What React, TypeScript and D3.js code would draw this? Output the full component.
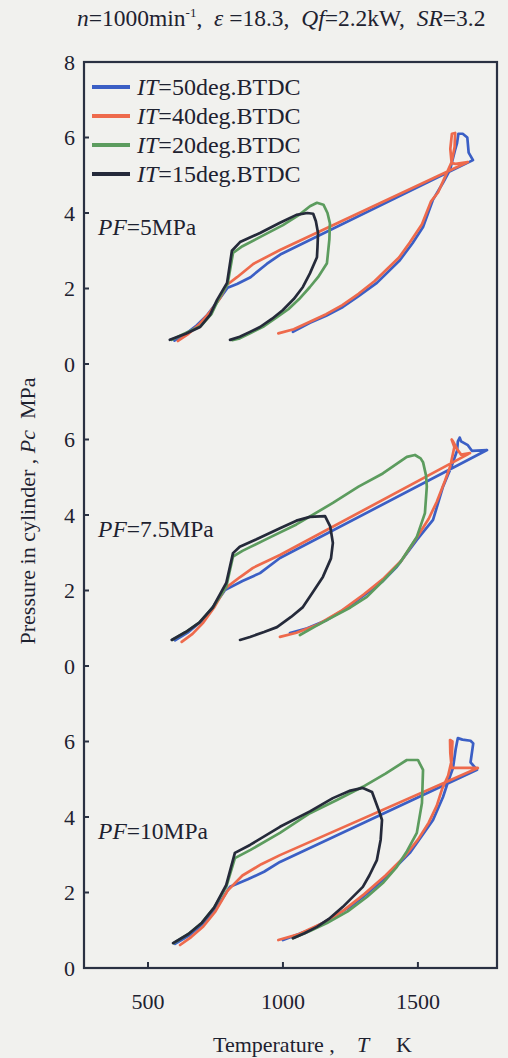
import React from "react";
import * as d3 from "d3";

// Injection timings (deg. BTDC) and their line colours
const itLabels = ["50", "40", "20", "15"];
const itColors = ["#3b5fc5", "#ee6a4c", "#5c9c5e", "#252a3a"];

// Fuel injection pressures, one stacked panel each (top to bottom)
const pfLabels = ["5", "7.5", "10"];

// Temperature (K) vs cylinder pressure (MPa) loops, PF = 5 MPa
const pf5_it50: [number, number][] = [[598,0.62],[640,0.8],[680,1.02],[720,1.3],[760,1.68],[795,2.02],[830,2.12],[880,2.3],[940,2.65],[990,2.9],[1704,5.4],[1688,5.6],[1683,6.0],[1666,6.1],[1650,6.1],[1645,5.85],[1637,5.65],[1619,5.14],[1593,4.8],[1555,4.34],[1519,3.63],[1480,3.2],[1433,2.75],[1348,2.15],[1280,1.8],[1222,1.51],[1160,1.28],[1100,1.09],[1037,0.85]];
const pf5_it40: [number, number][] = [[611,0.61],[650,0.8],[690,1.05],[730,1.38],[765,1.72],[793,2.1],[830,2.3],[890,2.65],[989,3.02],[1685,5.35],[1640,5.3],[1625,5.32],[1620,5.7],[1626,6.1],[1638,6.12],[1636,5.75],[1625,5.35],[1600,4.95],[1575,4.55],[1548,4.3],[1515,3.7],[1470,3.22],[1430,2.82],[1340,2.2],[1280,1.86],[1220,1.56],[1160,1.32],[1100,1.12],[1040,0.92],[983,0.81]];
const pf5_it20: [number, number][] = [[588,0.64],[640,0.82],[695,1.0],[735,1.32],[760,1.7],[795,2.12],[815,2.94],[850,3.12],[920,3.38],[1000,3.68],[1060,3.95],[1100,4.18],[1126,4.27],[1150,4.22],[1165,4.0],[1174,3.73],[1172,3.3],[1163,2.67],[1130,2.3],[1100,2.04],[1060,1.72],[1020,1.45],[970,1.2],[930,1.0],[880,0.82],[840,0.68],[812,0.63]];
const pf5_it15: [number, number][] = [[581,0.64],[640,0.8],[693,0.98],[730,1.3],[756,1.7],[793,2.15],[811,3.0],[841,3.23],[915,3.47],[989,3.74],[1050,3.95],[1090,4.0],[1112,3.98],[1122,3.78],[1130,3.47],[1128,3.1],[1126,2.83],[1100,2.4],[1074,2.04],[1040,1.72],[1000,1.43],[960,1.2],[915,0.98],[878,0.85],[840,0.72],[804,0.64]];

// PF = 7.5 MPa
const pf75_it50: [number, number][] = [[600,0.68],[650,0.9],[700,1.2],[745,1.6],[785,2.01],[850,2.25],[915,2.46],[989,2.86],[1756,5.72],[1700,5.7],[1685,5.85],[1660,5.95],[1655,6.05],[1648,5.95],[1645,5.7],[1625,5.3],[1593,4.75],[1556,3.87],[1496,3.34],[1422,2.63],[1370,2.25],[1311,1.93],[1240,1.55],[1163,1.22],[1090,1.0],[1026,0.87]];
const pf75_it40: [number, number][] = [[625,0.64],[665,0.85],[705,1.15],[745,1.55],[785,2.05],[840,2.35],[889,2.6],[989,2.94],[1693,5.64],[1660,5.6],[1645,5.75],[1630,5.95],[1625,6.0],[1635,5.8],[1620,5.3],[1600,4.9],[1570,4.35],[1540,3.9],[1500,3.45],[1440,2.8],[1370,2.3],[1300,1.9],[1220,1.48],[1130,1.1],[1050,0.88],[989,0.77]];
const pf75_it20: [number, number][] = [[590,0.69],[640,0.9],[690,1.15],[740,1.55],[790,2.1],[815,2.9],[850,3.05],[878,3.15],[950,3.4],[1050,3.75],[1185,4.32],[1280,4.75],[1370,5.1],[1459,5.54],[1489,5.59],[1510,5.5],[1519,5.4],[1530,5.05],[1533,4.75],[1526,4.05],[1496,3.42],[1433,2.73],[1370,2.25],[1311,1.83],[1250,1.55],[1185,1.3],[1120,1.05],[1063,0.82]];
const pf75_it15: [number, number][] = [[588,0.69],[640,0.9],[690,1.15],[740,1.55],[790,2.2],[815,2.99],[840,3.16],[900,3.35],[989,3.65],[1050,3.85],[1100,3.95],[1156,3.97],[1175,3.7],[1185,3.26],[1178,2.85],[1148,2.36],[1110,1.95],[1074,1.56],[1030,1.3],[978,1.03],[930,0.9],[878,0.77],[841,0.69]];

// PF = 10 MPa
const pf10_it50: [number, number][] = [[600,0.64],[650,0.85],[700,1.15],[750,1.55],[790,2.0],[804,2.15],[870,2.35],[930,2.55],[989,2.81],[1719,5.25],[1695,5.45],[1705,5.95],[1695,6.02],[1665,6.05],[1648,6.09],[1640,5.8],[1630,5.3],[1610,4.9],[1593,4.53],[1556,3.92],[1470,3.05],[1370,2.33],[1300,1.9],[1248,1.62],[1170,1.28],[1100,1.01],[1040,0.85],[1000,0.74]];
const pf10_it40: [number, number][] = [[619,0.61],[660,0.82],[705,1.1],[750,1.5],[795,2.05],[850,2.45],[920,2.75],[989,2.99],[1722,5.3],[1650,5.3],[1625,5.3],[1620,5.7],[1619,6.04],[1628,6.0],[1625,5.5],[1612,5.1],[1590,4.75],[1570,4.3],[1540,3.85],[1500,3.4],[1450,2.95],[1380,2.45],[1300,1.95],[1220,1.5],[1150,1.2],[1060,0.9],[983,0.74]];
const pf10_it20: [number, number][] = [[595,0.66],[650,0.9],[700,1.2],[745,1.6],[790,2.15],[822,2.91],[880,3.13],[989,3.58],[1100,4.1],[1200,4.45],[1296,4.8],[1380,5.15],[1459,5.51],[1500,5.51],[1519,5.25],[1517,4.8],[1515,4.37],[1496,3.58],[1460,3.1],[1422,2.68],[1370,2.25],[1311,1.88],[1240,1.5],[1163,1.19],[1100,0.98],[1037,0.79]];
const pf10_it15: [number, number][] = [[593,0.66],[650,0.9],[700,1.2],[745,1.6],[790,2.2],[822,3.05],[878,3.26],[989,3.74],[1100,4.15],[1185,4.5],[1250,4.7],[1296,4.77],[1330,4.66],[1359,4.1],[1367,3.92],[1362,3.4],[1348,2.86],[1320,2.45],[1296,2.15],[1222,1.62],[1170,1.3],[1126,1.09],[1080,0.92],[1037,0.79]];

// Axis ticks
const xTicks = [500, 1000, 1500];
const yTickLabels = ["0", "2", "4", "6"];

const panels = [
  { offset: 16, series: [pf5_it50, pf5_it40, pf5_it20, pf5_it15] },
  { offset: 8, series: [pf75_it50, pf75_it40, pf75_it20, pf75_it15] },
  { offset: 0, series: [pf10_it50, pf10_it40, pf10_it20, pf10_it15] },
];

const W = 508;
const H = 1058;
const serif = "'Liberation Serif', 'Times New Roman', serif";
const axisColor = "#2a3142";
const textColor = "#1e2230";

export default function App() {
  const x = d3.scaleLinear().domain([263, 1793]).range([84, 497]);
  // continuous pressure scale holding three stacked 0-8 MPa panels
  const y = d3.scaleLinear().domain([0, 24]).range([968, 62]);

  const yTicks: { v: number; label: string }[] = [];
  [0, 8, 16].forEach((off) =>
    yTickLabels.forEach((l) => yTicks.push({ v: off + +l, label: l }))
  );
  yTicks.push({ v: 24, label: "8" });

  return (
    <svg
      width={W}
      height={H}
      style={{ position: "absolute", left: 0, top: 0, background: "#f1f1ee" }}
      fontFamily={serif}
    >
      <rect x={0} y={0} width={W} height={H} fill="#f1f1ee" />

      {/* title */}
      <text x={77} y={26} fontSize={23.5} fill={textColor} style={{ whiteSpace: "pre" }}>
        <tspan fontStyle="italic">n</tspan>
        <tspan>=1000min</tspan>
        <tspan fontSize={13} dy={-9}>-1</tspan>
        <tspan dy={9}>,  </tspan>
        <tspan fontStyle="italic">ε</tspan>
        <tspan> =18.3,  </tspan>
        <tspan fontStyle="italic">Qf</tspan>
        <tspan>=2.2kW,  </tspan>
        <tspan fontStyle="italic">SR</tspan>
        <tspan>=3.2</tspan>
      </text>

      {/* curves */}
      {panels.map((p, pi) => {
        const line = d3
          .line<[number, number]>()
          .x((d) => x(d[0]))
          .y((d) => y(d[1] + p.offset));
        return (
          <g key={pi}>
            {p.series.map((s, si) => (
              <path
                key={si}
                d={line(s) || ""}
                fill="none"
                stroke={itColors[si]}
                strokeWidth={2.7}
                strokeLinejoin="round"
                strokeLinecap="round"
              />
            ))}
            <text x={x(315)} y={y(p.offset + 3.42)} fontSize={23.5} fill={textColor}>
              <tspan fontStyle="italic">PF</tspan>
              <tspan>={pfLabels[pi]}MPa</tspan>
            </text>
          </g>
        );
      })}

      {/* frame */}
      <rect
        x={x.range()[0]}
        y={y.range()[1]}
        width={x.range()[1] - x.range()[0]}
        height={y.range()[0] - y.range()[1]}
        fill="none"
        stroke={axisColor}
        strokeWidth={2.2}
      />

      {/* x ticks */}
      {xTicks.map((t) => (
        <g key={t}>
          <line x1={x(t)} x2={x(t)} y1={y(0)} y2={y(0) - 6} stroke={axisColor} strokeWidth={2} />
          <text x={x(t)} y={1009} textAnchor="middle" fontSize={22} fill={textColor}>
            {t}
          </text>
        </g>
      ))}

      {/* y ticks */}
      {yTicks.map((t, i) => (
        <g key={i}>
          <line x1={x.range()[0]} x2={x.range()[0] + 5} y1={y(t.v)} y2={y(t.v)} stroke={axisColor} strokeWidth={2} />
          <text x={75} y={y(t.v)} dy="0.35em" textAnchor="end" fontSize={22} fill={textColor}>
            {t.label}
          </text>
        </g>
      ))}

      {/* legend */}
      {itLabels.map((l, i) => {
        const ly = 87 + i * 29;
        return (
          <g key={l}>
            <line x1={92} x2={130} y1={ly} y2={ly} stroke={itColors[i]} strokeWidth={4} />
            <text x={137} y={ly + 8} fontSize={24} fill={textColor}>
              <tspan fontStyle="italic">IT</tspan>
              <tspan>={l}deg.BTDC</tspan>
            </text>
          </g>
        );
      })}

      {/* axis titles */}
      <text y={1052} fontSize={22} fill={textColor} style={{ whiteSpace: "pre" }}>
        <tspan x={213}>Temperature ,</tspan>
        <tspan x={357} fontStyle="italic">T</tspan>
        <tspan x={396}>K</tspan>
      </text>
      <text
        transform="translate(35,511) rotate(-90)"
        textAnchor="middle"
        fontSize={22}
        fill={textColor}
        style={{ whiteSpace: "pre" }}
      >
        <tspan>Pressure in cylinder , </tspan>
        <tspan fontStyle="italic">Pc</tspan>
        <tspan>  MPa</tspan>
      </text>
    </svg>
  );
}
